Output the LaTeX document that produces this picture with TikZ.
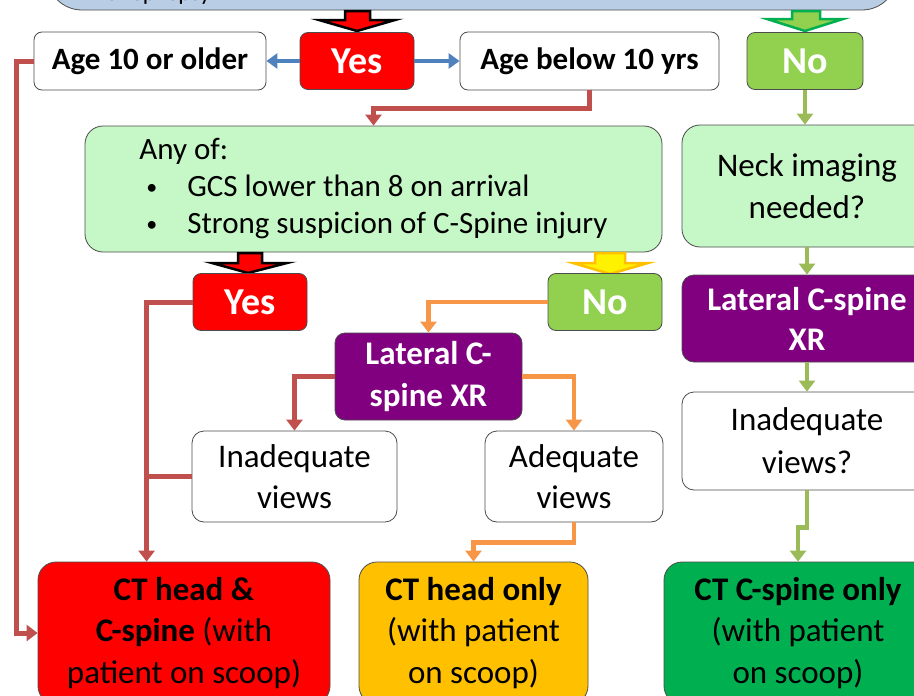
\documentclass[tikz,border=0pt]{standalone}
\usepackage{fontspec}
\setmainfont{Carlito}
\usetikzlibrary{arrows.meta}
\definecolor{topblue}{RGB}{185,205,229}
\definecolor{nogreen}{RGB}{146,208,80}
\definecolor{palegreen}{RGB}{198,247,198}
\definecolor{xrpurple}{RGB}{128,0,128}
\definecolor{ctamber}{RGB}{255,192,0}
\definecolor{ctgreen}{RGB}{0,176,80}
\definecolor{lnred}{RGB}{192,80,77}
\definecolor{lnblue}{RGB}{79,129,189}
\definecolor{lnorange}{RGB}{247,150,70}
\definecolor{lngreen}{RGB}{155,187,89}
\newcommand{\smallbul}{\makebox[41pt][l]{\raisebox{2pt}{\fontsize{22}{22}\selectfont\textbullet}}}

\begin{document}
\begin{tikzpicture}[x=1pt, y=-1pt,
  box/.style={draw=black!70, line width=0.8pt, rounded corners=8pt, align=center, inner sep=2pt},
  yesno/.style={box, text=white, font=\fontsize{38}{40}\selectfont\bfseries, minimum width=114pt, minimum height=57pt},
  agebox/.style={box, fill=white, font=\fontsize{31}{36}\selectfont\bfseries, minimum height=58pt},
  bigbox/.style={box, rounded corners=18pt, font=\fontsize{33}{41.5}\selectfont},
  blockarrow/.style={line width=2.5pt, line join=miter},
  redline/.style={draw=lnred, line width=5pt},
  redarrow/.style={redline, -{Triangle[width=16pt,length=11pt]}},
  bluearrow/.style={draw=lnblue, line width=4pt, -{Triangle[width=15pt,length=11pt]}},
  orangearrow/.style={draw=lnorange, line width=4.5pt, -{Triangle[width=16pt,length=11pt]}},
  greenarrow/.style={draw=lngreen, line width=4.5pt, -{Triangle[width=16pt,length=11pt]}}]
  \useasboundingbox (0,0) rectangle (914,696);

  % cut-off question at the top
  \node[box, fill=topblue, rounded corners=35pt, minimum width=850pt, minimum height=100pt] (Q) at (472,-40) {};
  \node[anchor=base west, font=\fontsize{24}{29}\selectfont] (Qt) at (102,1) {of epilepsy};
  \draw[blockarrow, fill=red, draw=black] (345,11) -- (370,11) -- (370,20) -- (395,20) -- (357,31) -- (319,20) -- (345,20) -- cycle;
  \draw[blockarrow, fill=nogreen, draw=ctgreen] (792,11) -- (820,11) -- (820,19) -- (843,19) -- (805,31) -- (767,19) -- (792,19) -- cycle;

  % first answer row
  \node[yesno, fill=red] (Y1) at (357,61) {Yes};
  \node[agebox, minimum width=232pt] (A1) at (150,61) {Age 10 or older};
  \node[agebox, minimum width=259pt] (A2) at (589.5,61) {Age below 10 yrs};
  \node[yesno, fill=nogreen, minimum width=116pt] (N1) at (805,61) {No};

  % younger children
  \node[bigbox, fill=palegreen, align=left, minimum width=577pt, minimum height=126pt,
        font=\fontsize{31}{37}\selectfont] (G) at (373.5,189)
    {Any of:\\
     \hspace*{7pt}\smallbul GCS lower than 8 on arrival\\
     \hspace*{7pt}\smallbul Strong suspicion of C-Spine injury};
  \draw[blockarrow, fill=red, draw=black] (238,253) -- (262,253) -- (262,263) -- (287,263) -- (248,273) -- (212,263) -- (238,263) -- cycle;
  \draw[blockarrow, fill=yellow, draw=ctamber] (595,253) -- (625,253) -- (625,263) -- (648,263) -- (610,274) -- (573,263) -- (595,263) -- cycle;
  \node[yesno, fill=red] (Y2) at (250,302) {Yes};
  \node[yesno, fill=nogreen] (N2) at (605,302) {No};
  \node[bigbox, rounded corners=10pt, fill=xrpurple, text=white, font=\fontsize{33}{42}\selectfont\bfseries,
        minimum width=187pt, minimum height=87pt] (L1) at (428.5,376.5) {Lateral C-\\spine XR};
  \node[bigbox, rounded corners=12pt, fill=white, minimum width=205pt, minimum height=91pt] (I1) at (294.5,476.5) {Inadequate\\views};
  \node[bigbox, rounded corners=12pt, fill=white, minimum width=178pt, minimum height=91pt] (Ad) at (574,476.5) {Adequate\\views};

  % right column
  \node[bigbox, fill=palegreen, minimum width=250pt, minimum height=122pt] (K) at (807,186) {Neck imaging\\needed?};
  \node[bigbox, rounded corners=12pt, fill=xrpurple, text=white, font=\fontsize{33}{40}\selectfont\bfseries,
        minimum width=250pt, minimum height=87pt] (L2) at (807,318.5) {Lateral C-spine\\XR};
  \node[bigbox, rounded corners=12pt, fill=white, font=\fontsize{33}{43}\selectfont,
        minimum width=250pt, minimum height=98pt] (I2) at (807,441) {Inadequate\\views?};

  % outcomes
  \node[bigbox, fill=red, minimum width=292pt, minimum height=142pt] (C1) at (184,633)
    {\textbf{CT head \&}\\\textbf{C-spine} (with\\patient on scoop)};
  \node[bigbox, fill=ctamber, minimum width=229pt, minimum height=142pt] (C2) at (473.5,633)
    {\textbf{CT head only}\\(with patient\\on scoop)};
  \node[bigbox, fill=ctgreen, minimum width=268pt, minimum height=142pt] (C3) at (798,633)
    {\textbf{CT C-spine only}\\(with patient\\on scoop)};

  % connectors
  \draw[bluearrow] (Y1) -- (A1);
  \draw[bluearrow] (Y1) -- (A2);
  \draw[redarrow] (A2.south) -- ++(0,18) -| (G.north);
  \draw[redarrow] (A1.west) -- ++(-17,0) |- (C1.west);
  \draw[redarrow] (Y2.west) -- ++(-46,0) coordinate (J) -- (J |- C1.north);
  \draw[redline] (I1.west) -- (I1.west -| J);
  \draw[orangearrow] (N2.west) -| (L1.north);
  \draw[redarrow] (L1.west) -| (I1.north);
  \draw[orangearrow] (L1.east) -| (Ad.north);
  \draw[orangearrow] (Ad.south) -- ++(0,20) -| (C2.north);
  \draw[greenarrow] (N1.south) -- (N1.south |- K.north);
  \draw[greenarrow] (K) -- (L2);
  \draw[greenarrow] (L2) -- (I2);
  \draw[greenarrow] (I2.south) -- ++(0,37) -| (C3.north);
\end{tikzpicture}
\end{document}
